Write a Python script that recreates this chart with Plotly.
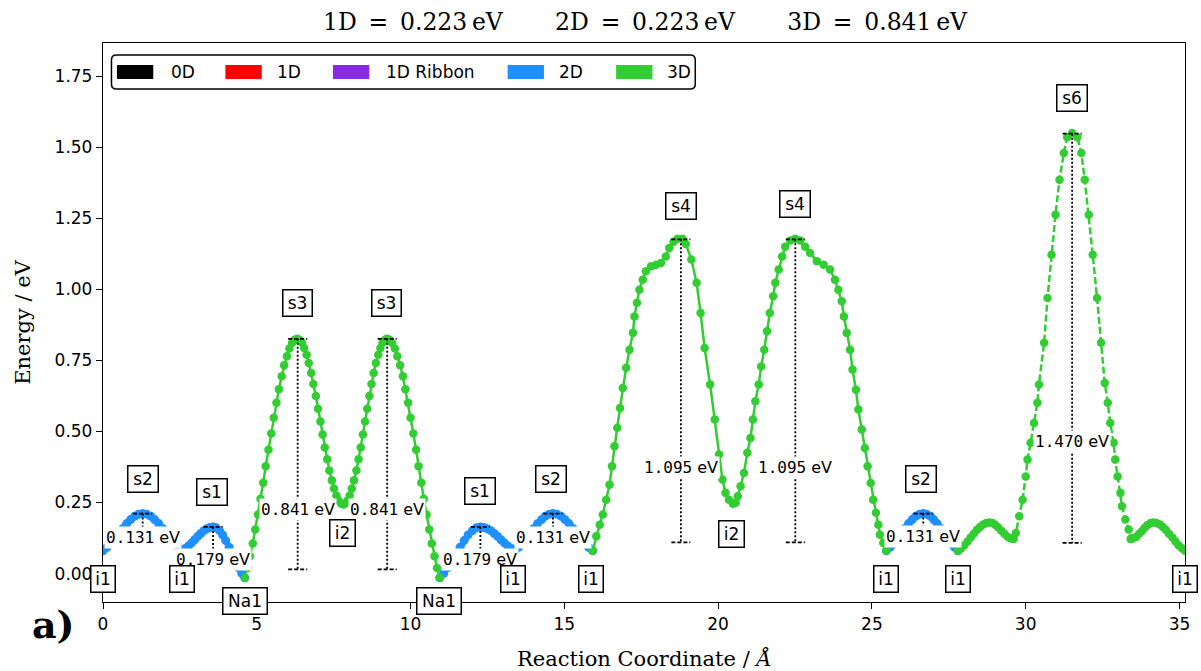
import plotly.graph_objects as go

# ---------------- data ----------------
# 2D (blue) segments
blue_x1 = [0.00, 0.13, 0.26, 0.39, 0.52, 0.65, 0.77, 0.90, 1.03, 1.16, 1.29, 1.42, 1.55, 1.68, 1.81, 1.94, 2.06, 2.19, 2.32, 2.45, 2.58,
           2.68, 2.78, 2.88, 2.98, 3.08, 3.18, 3.28, 3.38, 3.48, 3.58, 3.68, 3.79, 3.89, 3.99, 4.10, 4.20, 4.30, 4.40, 4.51, 4.61]
blue_y1 = [0.080, 0.092, 0.106, 0.123, 0.141, 0.159, 0.176, 0.190, 0.202, 0.209, 0.211, 0.209, 0.202, 0.190, 0.176, 0.159, 0.141, 0.123, 0.106, 0.092, 0.080,
           0.088, 0.097, 0.108, 0.119, 0.131, 0.141, 0.151, 0.158, 0.162, 0.164, 0.161, 0.151, 0.136, 0.116, 0.093, 0.069, 0.044, 0.021, 0.001, -0.015]

blue_x2 = [10.95, 11.08, 11.21, 11.35, 11.48, 11.61, 11.74, 11.87, 12.01, 12.14, 12.27, 12.38, 12.49, 12.61, 12.72, 12.83, 12.94, 13.05, 13.16, 13.28, 13.39,
           13.51, 13.64, 13.76, 13.89, 14.01, 14.13, 14.26, 14.38, 14.51, 14.63, 14.76, 14.89, 15.02, 15.15, 15.28, 15.40, 15.53, 15.66, 15.79, 15.92]
blue_y2 = [-0.015, 0.001, 0.021, 0.044, 0.069, 0.093, 0.116, 0.136, 0.151, 0.161, 0.164, 0.162, 0.158, 0.151, 0.141, 0.131, 0.119, 0.108, 0.097, 0.088, 0.080,
           0.092, 0.106, 0.123, 0.141, 0.159, 0.176, 0.190, 0.202, 0.209, 0.211, 0.209, 0.202, 0.190, 0.176, 0.159, 0.141, 0.123, 0.106, 0.092, 0.080]

blue_x3 = [25.47, 25.59, 25.71, 25.83, 25.95, 26.07, 26.19, 26.31, 26.43, 26.55, 26.67, 26.78, 26.90, 27.01, 27.12, 27.24, 27.35, 27.46, 27.57, 27.69, 27.80]
blue_y3 = [0.080, 0.092, 0.106, 0.123, 0.141, 0.159, 0.176, 0.190, 0.202, 0.209, 0.211, 0.209, 0.202, 0.190, 0.176, 0.159, 0.141, 0.123, 0.106, 0.092, 0.080]

# 3D (green) segments
green_x1 = [4.61, 4.70, 4.78, 4.87, 4.95, 5.04, 5.12, 5.21, 5.29, 5.38, 5.47, 5.55, 5.64, 5.72, 5.81, 5.89, 5.98, 6.06, 6.15, 6.23, 6.32,
            6.39, 6.47, 6.54, 6.62, 6.69, 6.77, 6.84, 6.92, 6.99, 7.07, 7.14, 7.21, 7.29, 7.36, 7.44, 7.51, 7.59, 7.66, 7.74, 7.81,
            7.88, 7.95, 8.02, 8.09, 8.16, 8.24, 8.31, 8.38, 8.45, 8.52, 8.59, 8.66, 8.73, 8.80, 8.87, 8.95, 9.02, 9.09, 9.16, 9.23,
            9.32, 9.40, 9.49, 9.57, 9.66, 9.75, 9.83, 9.92, 10.00, 10.09, 10.18, 10.26, 10.35, 10.43, 10.52, 10.61, 10.69, 10.78, 10.86, 10.95]
green_y1 = [-0.015, 0.020, 0.061, 0.106, 0.155, 0.208, 0.263, 0.320, 0.378, 0.436, 0.493, 0.548, 0.601, 0.649, 0.694, 0.733, 0.765, 0.792, 0.811, 0.823, 0.826,
            0.822, 0.812, 0.794, 0.770, 0.741, 0.706, 0.667, 0.625, 0.580, 0.535, 0.489, 0.444, 0.402, 0.363, 0.328, 0.299, 0.275, 0.257, 0.247, 0.243,
            0.247, 0.257, 0.275, 0.299, 0.328, 0.363, 0.402, 0.444, 0.489, 0.535, 0.580, 0.625, 0.667, 0.706, 0.741, 0.770, 0.794, 0.812, 0.822, 0.826,
            0.823, 0.811, 0.792, 0.765, 0.733, 0.694, 0.649, 0.601, 0.548, 0.493, 0.436, 0.378, 0.320, 0.263, 0.208, 0.155, 0.106, 0.061, 0.020, -0.015]

green_x2 = [15.92, 16.04, 16.15, 16.25, 16.36, 16.47, 16.55, 16.63, 16.72, 16.81, 16.90, 17.01, 17.12, 17.23, 17.28, 17.36, 17.44, 17.55, 17.65, 17.82,
            17.98, 18.14, 18.30, 18.41, 18.55, 18.68, 18.84, 18.95, 19.13, 19.30, 19.43, 19.56, 19.74, 19.89, 20.03, 20.14, 20.24, 20.35, 20.48, 20.57,
            20.64, 20.73, 20.84, 20.95, 21.05, 21.13, 21.21, 21.32, 21.40, 21.50, 21.59, 21.68, 21.79, 21.86, 21.97, 22.08, 22.18, 22.35, 22.51, 22.67,
            22.83, 22.99, 23.21, 23.43, 23.64, 23.80, 23.91, 24.02, 24.09, 24.18, 24.29, 24.37, 24.48, 24.56, 24.67, 24.77, 24.86, 24.96, 25.04, 25.13,
            25.21, 25.26, 25.37, 25.47]
green_y2 = [0.080, 0.131, 0.172, 0.208, 0.260, 0.313, 0.378, 0.448, 0.513, 0.583, 0.653, 0.724, 0.788, 0.847, 0.905, 0.953, 0.999, 1.034, 1.064, 1.081,
            1.087, 1.093, 1.116, 1.146, 1.168, 1.178, 1.178, 1.160, 1.105, 1.023, 0.917, 0.794, 0.665, 0.542, 0.419, 0.331, 0.284, 0.260, 0.246, 0.249,
            0.272, 0.307, 0.354, 0.425, 0.477, 0.542, 0.606, 0.665, 0.729, 0.788, 0.853, 0.917, 0.976, 1.023, 1.070, 1.116, 1.150, 1.172, 1.178, 1.172,
            1.150, 1.128, 1.099, 1.087, 1.070, 1.034, 0.999, 0.958, 0.905, 0.847, 0.788, 0.718, 0.647, 0.577, 0.507, 0.442, 0.378, 0.319, 0.260, 0.214,
            0.172, 0.137, 0.108, 0.080]

hump1_x = [27.80, 27.90, 28.00, 28.11, 28.21, 28.31, 28.41, 28.51, 28.62, 28.72, 28.82, 28.92, 29.01, 29.11, 29.21, 29.31, 29.41, 29.50, 29.60]
hump1_y = [0.080, 0.089, 0.100, 0.113, 0.127, 0.140, 0.153, 0.164, 0.173, 0.178, 0.180, 0.178, 0.172, 0.162, 0.151, 0.140, 0.130, 0.124, 0.122]

dashed_x = [29.60, 29.68, 29.79, 29.90, 30.00, 30.06, 30.16, 30.27, 30.38, 30.43, 30.60, 30.71, 30.84, 30.97, 31.10, 31.24, 31.35, 31.51,
            31.68, 31.81, 31.92, 32.05, 32.18, 32.32, 32.45, 32.57, 32.67, 32.75, 32.86, 32.91, 32.99, 33.08, 33.13, 33.24, 33.35, 33.42]
dashed_y = [0.122, 0.143, 0.202, 0.260, 0.342, 0.401, 0.460, 0.530, 0.601, 0.665, 0.812, 0.970, 1.122, 1.263, 1.386, 1.480, 1.535, 1.550,
            1.535, 1.480, 1.386, 1.263, 1.122, 0.970, 0.812, 0.671, 0.601, 0.530, 0.460, 0.401, 0.342, 0.284, 0.237, 0.190, 0.155, 0.122]

hump2_x = [33.42, 33.49, 33.59, 33.68, 33.78, 33.87, 33.96, 34.06, 34.15, 34.25, 34.36, 34.46, 34.56, 34.66, 34.77, 34.87, 34.97, 35.08, 35.18]
hump2_y = [0.122, 0.125, 0.129, 0.139, 0.150, 0.161, 0.171, 0.178, 0.180, 0.178, 0.173, 0.164, 0.153, 0.140, 0.127, 0.113, 0.100, 0.089, 0.080]

# barrier markers
barrier_x = [1.29, 3.58, 6.33, 9.24, 12.27, 14.63, 18.79, 22.51, 26.67, 31.51]
barrier_top = [0.211, 0.164, 0.826, 0.826, 0.164, 0.211, 1.176, 1.176, 0.211, 1.548]
barrier_bottom = [0.13, 0.06, 0.015, 0.015, 0.06, 0.13, 0.110, 0.110, 0.13, 0.108]
barrier_value = ["0.131", "0.179", "0.841", "0.841", "0.179", "0.131", "1.095", "1.095", "0.131", "1.470"]
barrier_label_y = [0.127, 0.049, 0.225, 0.225, 0.049, 0.127, 0.372, 0.372, 0.131, 0.466]

# state labels
state_names = ["i1", "s2", "i1", "s1", "Na1", "s3", "i2", "s3", "Na1", "s1", "i1", "s2", "i1", "s4", "i2", "s4", "i1", "s2", "i1", "s6", "i1"]
state_x = [0.01, 1.29, 2.56, 3.56, 4.62, 6.34, 7.79, 9.23, 10.93, 12.26, 13.34, 14.57, 15.86, 18.79, 20.43, 22.50, 25.47, 26.61, 27.79, 31.49, 35.17]
state_y = [-0.019, 0.334, -0.019, 0.287, -0.098, 0.953, 0.143, 0.953, -0.098, 0.290, -0.019, 0.334, -0.019, 1.293, 0.140, 1.300, -0.019, 0.334, -0.019, 1.675, -0.019]

legend_names = ["0D", "1D", "1D Ribbon", "2D", "3D"]
title_parts = ["1D\u2002=\u20020.223\u2009eV", "2D\u2002=\u20020.223\u2009eV", "3D\u2002=\u20020.841\u2009eV"]
x_ticks = [0, 5, 10, 15, 20, 25, 30, 35]
y_ticks = [0.00, 0.25, 0.50, 0.75, 1.00, 1.25, 1.50, 1.75]

# ---------------- styling ----------------
X_RANGE = [0, 35.18]
Y_RANGE = [-0.1, 1.867]
BLUE = "#1E90FF"
GREEN = "#32CD32"
legend_colors = ["#000000", "#FF0000", "#8A2BE2", BLUE, GREEN]
box_widths = {"i1": 26, "i2": 27, "s1": 32, "s2": 32, "s3": 31, "s4": 32, "s6": 32, "Na1": 46}

PL, PR, PT, PB = 103, 1190, 43, 602
W, H = 1201, 671


def px_x(px):
    return (px - PL) / (PR - PL)


def px_y(py):
    return (PB - py) / (PB - PT)


fig = go.Figure()

for bx, by in [(blue_x1, blue_y1), (blue_x2, blue_y2), (blue_x3, blue_y3)]:
    fig.add_trace(go.Scatter(x=bx, y=by, mode="lines+markers",
                             line=dict(color=BLUE, width=6),
                             marker=dict(size=9, color=BLUE), hoverinfo="skip"))

for gx, gy, dash in [(green_x1, green_y1, "solid"), (green_x2, green_y2, "solid"),
                     (hump1_x, hump1_y, "solid"), (dashed_x, dashed_y, "7px,3px"),
                     (hump2_x, hump2_y, "solid")]:
    fig.add_trace(go.Scatter(x=gx, y=gy, mode="lines+markers",
                             line=dict(color=GREEN, width=2.5, dash=dash),
                             marker=dict(size=8.5, color=GREEN), hoverinfo="skip"))

# barrier dotted lines and caps
vx, vy, cx, cy = [], [], [], []
CAP = 0.31
for bx, bt, bb in zip(barrier_x, barrier_top, barrier_bottom):
    vx += [bx, bx, None]
    vy += [bt, bb, None]
    cx += [bx - CAP, bx + CAP, None, bx - CAP, bx + CAP, None]
    cy += [bt, bt, None, bb, bb, None]
fig.add_trace(go.Scatter(x=vx, y=vy, mode="lines", line=dict(color="black", width=1.8, dash="2px,2px"),
                         hoverinfo="skip"))
fig.add_trace(go.Scatter(x=cx, y=cy, mode="lines", line=dict(color="black", width=1.8, dash="4px,2px"),
                         hoverinfo="skip"))

annotations = []
# barrier labels
for bx, ly, val in zip(barrier_x, barrier_label_y, barrier_value):
    annotations.append(dict(
        x=bx, y=ly, xref="x", yref="y", showarrow=False,
        text=f'<span style="font-family:\'DejaVu Sans Mono\'">{val}</span> eV',
        font=dict(family="DejaVu Sans", size=16, color="black"),
        bgcolor="white", borderpad=1, xanchor="center", yanchor="middle"))

# state boxes
for name, sx, sy in zip(state_names, state_x, state_y):
    bw, bp = 1.5, 1
    if Y_RANGE[0] <= sy <= Y_RANGE[1]:
        yref, yy = "y", sy
    else:
        yref, yy = "paper", (sy - Y_RANGE[0]) / (Y_RANGE[1] - Y_RANGE[0])
    annotations.append(dict(
        x=sx, y=yy, xref="x", yref=yref, showarrow=False, text=name,
        font=dict(family="DejaVu Sans", size=17, color="black"),
        bgcolor="white", bordercolor="black", borderwidth=bw, borderpad=bp,
        width=box_widths[name] - 2 * (bw + bp), height=28 - 2 * (bw + bp),
        xanchor="center", yanchor="middle"))

# title
annotations.append(dict(
    x=px_x(648), y=px_y(22), xref="paper", yref="paper", showarrow=False,
    text=("\u00a0" * 7).join(title_parts),
    font=dict(family="DejaVu Serif", size=23.5, color="black"),
    xanchor="center", yanchor="middle"))

# axis titles
annotations.append(dict(
    x=px_x(647), y=px_y(658), xref="paper", yref="paper", showarrow=False,
    text="Reaction Coordinate / <i>Å</i>",
    font=dict(family="DejaVu Serif", size=21, color="black"),
    xanchor="center", yanchor="middle"))
annotations.append(dict(
    x=px_x(22), y=0.5, xref="paper", yref="paper", showarrow=False,
    text="Energy / eV", textangle=-90,
    font=dict(family="DejaVu Serif", size=21, color="black"),
    xanchor="center", yanchor="middle"))

# panel label
annotations.append(dict(
    x=px_x(53), y=px_y(624), xref="paper", yref="paper", showarrow=False,
    text="<b>a)</b>", font=dict(family="DejaVu Serif", size=38, color="black"),
    xanchor="center", yanchor="middle"))

# manual legend
shapes = []
lx0, lx1, ly0, ly1 = px_x(111.5), px_x(698), px_y(89), px_y(55)
rx, ry = 5 / (PR - PL), 5 / (PB - PT)
path = (f"M {lx0 + rx},{ly0} L {lx1 - rx},{ly0} Q {lx1},{ly0} {lx1},{ly0 + ry} "
        f"L {lx1},{ly1 - ry} Q {lx1},{ly1} {lx1 - rx},{ly1} L {lx0 + rx},{ly1} "
        f"Q {lx0},{ly1} {lx0},{ly1 - ry} L {lx0},{ly0 + ry} Q {lx0},{ly0} {lx0 + rx},{ly0} Z")
shapes.append(dict(type="path", path=path, xref="paper", yref="paper",
                   line=dict(color="black", width=1.5), fillcolor="white", layer="above"))
patch_left = [117, 226, 334, 509.5, 618.5]
text_left = [169, 276, 385, 559, 668]
for name, col, pl, tl in zip(legend_names, legend_colors, patch_left, text_left):
    shapes.append(dict(type="rect", xref="paper", yref="paper",
                       x0=px_x(pl), x1=px_x(pl + 36.5), y0=px_y(79), y1=px_y(65),
                       line=dict(width=0), fillcolor=col, layer="above"))
    annotations.append(dict(x=px_x(tl), y=px_y(72), xref="paper", yref="paper", showarrow=False,
                            text=name, font=dict(family="DejaVu Sans", size=17, color="black"),
                            xanchor="left", yanchor="middle"))

axis_common = dict(showgrid=False, zeroline=False, showline=True, linecolor="black", linewidth=1.3,
                   mirror=True, ticks="outside", ticklen=6, tickwidth=1.3, tickcolor="black",
                   tickfont=dict(family="DejaVu Sans", size=17, color="black"))

fig.update_layout(
    width=W, height=H, showlegend=False,
    paper_bgcolor="white", plot_bgcolor="white",
    margin=dict(l=PL, r=W - PR, t=PT, b=H - PB, pad=0),
    xaxis=dict(range=X_RANGE, tickvals=x_ticks, ticktext=[str(v) for v in x_ticks], **axis_common),
    yaxis=dict(range=Y_RANGE, tickvals=y_ticks, ticktext=[f"{v:.2f}" for v in y_ticks], **axis_common),
    annotations=annotations, shapes=shapes,
)

fig.write_html("out.html")
